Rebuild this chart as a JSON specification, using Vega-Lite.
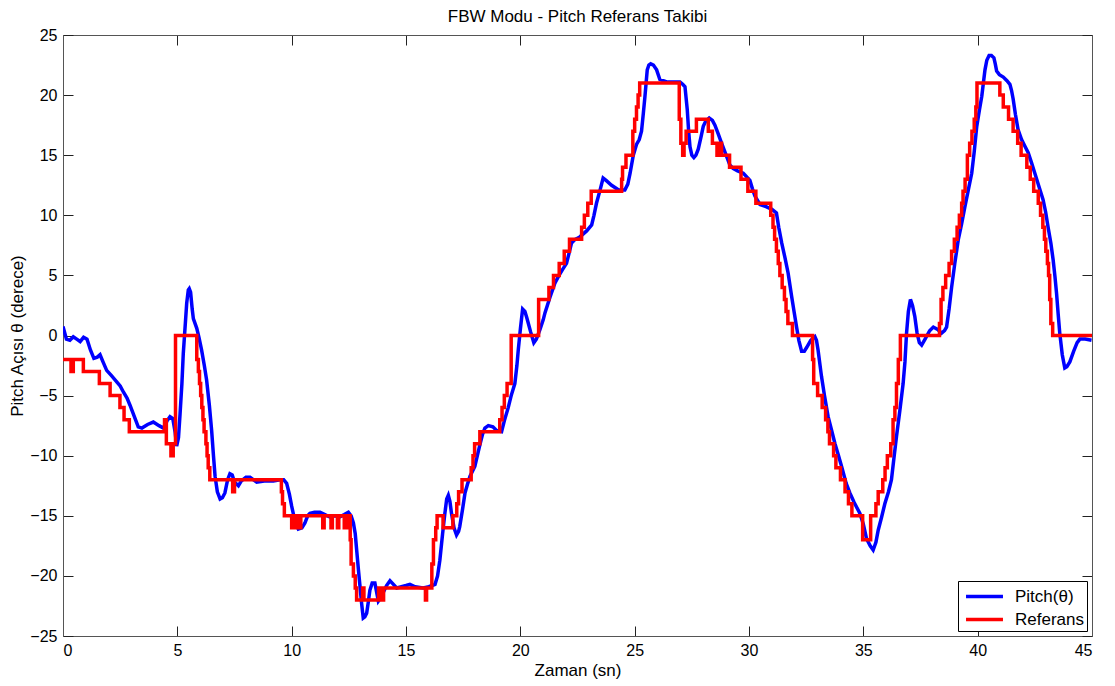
{
  "$schema": "https://vega.github.io/schema/vega-lite/v6.json",
  "width": 1029,
  "height": 601,
  "autosize": {"type": "none"},
  "padding": {"left": 63, "top": 35, "right": 23, "bottom": 50},
  "background": "white",
  "title": {"text": "FBW Modu - Pitch Referans Takibi", "font": "Liberation Sans", "fontSize": 17, "fontWeight": "normal", "color": "black", "offset": 1},
  "config": {
    "view": {"stroke": null},
    "axis": {"grid": false, "labelFont": "Liberation Sans", "labelFontSize": 16, "labelColor": "black", "titleFont": "Liberation Sans", "titleFontSize": 17, "titleFontWeight": "normal", "titleColor": "black", "domainColor": "#555", "tickColor": "#222", "tickSize": -10, "labelPadding": 16},
    "legend": {"orient": "bottom-right", "offset": 5, "padding": 3, "strokeColor": "black", "fillColor": "white", "labelFont": "Liberation Sans", "labelFontSize": 17, "labelColor": "black", "labelAlign": "left", "symbolType": "M-1.76,0H1.76", "symbolSize": 441, "symbolStrokeWidth": 3.5, "symbolOffset": 11, "labelOffset": 18, "rowPadding": 2, "cornerRadius": 0}
  },
  "datasets": {
    "pitch": [
      {"t":0,"v":0.75},{"t":0.15,"v":-0.3},{"t":0.3,"v":-0.4},{"t":0.45,"v":-0.1},{"t":0.6,"v":-0.3},{"t":0.75,"v":-0.5},{"t":0.9,"v":-0.15},{"t":1.05,"v":-0.3},{"t":1.2,"v":-1.2},{"t":1.35,"v":-1.9},{"t":1.5,"v":-1.8},{"t":1.62,"v":-1.6},{"t":1.75,"v":-2.2},{"t":1.91,"v":-2.9},{"t":2.1,"v":-3.3},{"t":2.35,"v":-3.85},{"t":2.5,"v":-4.2},{"t":2.64,"v":-4.7},{"t":2.8,"v":-5.2},{"t":2.93,"v":-5.8},{"t":3.05,"v":-6.4},{"t":3.15,"v":-6.9},{"t":3.29,"v":-7.6},{"t":3.45,"v":-7.7},{"t":3.7,"v":-7.4},{"t":3.95,"v":-7.2},{"t":4.2,"v":-7.5},{"t":4.39,"v":-7.7},{"t":4.55,"v":-7.1},{"t":4.68,"v":-6.75},{"t":4.8,"v":-6.9},{"t":4.9,"v":-8.0},{"t":4.97,"v":-9.2},{"t":5.05,"v":-8.5},{"t":5.12,"v":-6.5},{"t":5.2,"v":-4.0},{"t":5.26,"v":-1.5},{"t":5.35,"v":1.0},{"t":5.41,"v":2.7},{"t":5.48,"v":3.8},{"t":5.52,"v":3.9},{"t":5.58,"v":3.6},{"t":5.65,"v":2.2},{"t":5.7,"v":1.4},{"t":5.85,"v":0.6},{"t":5.95,"v":-0.2},{"t":6.06,"v":-1.2},{"t":6.18,"v":-2.5},{"t":6.28,"v":-3.7},{"t":6.4,"v":-5.8},{"t":6.5,"v":-7.9},{"t":6.58,"v":-10.0},{"t":6.65,"v":-11.7},{"t":6.75,"v":-13.0},{"t":6.87,"v":-13.6},{"t":6.97,"v":-13.5},{"t":7.08,"v":-13.1},{"t":7.2,"v":-12.0},{"t":7.3,"v":-11.5},{"t":7.4,"v":-11.6},{"t":7.5,"v":-12.2},{"t":7.67,"v":-12.5},{"t":7.8,"v":-12.1},{"t":8.0,"v":-11.8},{"t":8.18,"v":-11.8},{"t":8.47,"v":-12.2},{"t":8.8,"v":-12.1},{"t":9.2,"v":-12.1},{"t":9.49,"v":-12.0},{"t":9.65,"v":-12.0},{"t":9.78,"v":-12.3},{"t":9.9,"v":-13.2},{"t":10.0,"v":-14.2},{"t":10.15,"v":-15.5},{"t":10.29,"v":-16.1},{"t":10.45,"v":-16.0},{"t":10.58,"v":-15.6},{"t":10.7,"v":-15.0},{"t":10.8,"v":-14.8},{"t":11.0,"v":-14.7},{"t":11.24,"v":-14.7},{"t":11.45,"v":-14.9},{"t":11.67,"v":-15.1},{"t":11.9,"v":-15.0},{"t":12.1,"v":-15.1},{"t":12.3,"v":-14.9},{"t":12.48,"v":-14.7},{"t":12.6,"v":-15.0},{"t":12.7,"v":-15.6},{"t":12.78,"v":-16.5},{"t":12.84,"v":-17.8},{"t":12.92,"v":-19.5},{"t":12.99,"v":-20.9},{"t":13.06,"v":-22.3},{"t":13.13,"v":-23.5},{"t":13.2,"v":-23.4},{"t":13.28,"v":-23.1},{"t":13.35,"v":-22.2},{"t":13.42,"v":-21.2},{"t":13.52,"v":-20.6},{"t":13.64,"v":-20.6},{"t":13.72,"v":-21.4},{"t":13.79,"v":-22.1},{"t":13.9,"v":-21.8},{"t":14.0,"v":-21.4},{"t":14.15,"v":-20.8},{"t":14.3,"v":-20.4},{"t":14.45,"v":-20.7},{"t":14.59,"v":-21.0},{"t":14.8,"v":-20.9},{"t":15.0,"v":-20.8},{"t":15.17,"v":-20.7},{"t":15.4,"v":-20.9},{"t":15.75,"v":-21.0},{"t":16.0,"v":-20.9},{"t":16.27,"v":-20.7},{"t":16.38,"v":-20.0},{"t":16.48,"v":-18.7},{"t":16.6,"v":-16.5},{"t":16.7,"v":-14.8},{"t":16.78,"v":-13.6},{"t":16.85,"v":-13.3},{"t":16.92,"v":-13.8},{"t":16.99,"v":-14.8},{"t":17.1,"v":-16.0},{"t":17.21,"v":-16.6},{"t":17.3,"v":-16.3},{"t":17.35,"v":-15.9},{"t":17.47,"v":-14.5},{"t":17.58,"v":-13.1},{"t":17.7,"v":-12.3},{"t":17.8,"v":-11.7},{"t":18.01,"v":-10.9},{"t":18.12,"v":-10.0},{"t":18.23,"v":-9.1},{"t":18.35,"v":-8.2},{"t":18.45,"v":-7.7},{"t":18.6,"v":-7.5},{"t":18.8,"v":-7.6},{"t":18.96,"v":-7.9},{"t":19.18,"v":-8.0},{"t":19.3,"v":-7.1},{"t":19.47,"v":-6.0},{"t":19.6,"v":-5.0},{"t":19.76,"v":-4.0},{"t":19.85,"v":-2.5},{"t":19.91,"v":-1.2},{"t":20.0,"v":0.5},{"t":20.1,"v":2.2},{"t":20.2,"v":2.0},{"t":20.28,"v":1.5},{"t":20.45,"v":0.3},{"t":20.59,"v":-0.6},{"t":20.7,"v":-0.3},{"t":20.86,"v":0.5},{"t":21.0,"v":1.3},{"t":21.08,"v":1.9},{"t":21.3,"v":3.2},{"t":21.5,"v":4.3},{"t":21.66,"v":4.9},{"t":21.85,"v":5.5},{"t":22.02,"v":6.0},{"t":22.15,"v":7.0},{"t":22.24,"v":7.7},{"t":22.4,"v":8.0},{"t":22.6,"v":8.2},{"t":22.9,"v":8.7},{"t":23.12,"v":9.2},{"t":23.22,"v":10.0},{"t":23.33,"v":11.0},{"t":23.5,"v":12.2},{"t":23.62,"v":13.1},{"t":23.75,"v":12.9},{"t":23.99,"v":12.5},{"t":24.3,"v":12.1},{"t":24.57,"v":12.1},{"t":24.7,"v":12.6},{"t":24.8,"v":13.5},{"t":24.94,"v":15.0},{"t":25.08,"v":15.9},{"t":25.2,"v":16.3},{"t":25.3,"v":17.0},{"t":25.38,"v":18.5},{"t":25.45,"v":19.9},{"t":25.5,"v":21.0},{"t":25.55,"v":22.1},{"t":25.62,"v":22.5},{"t":25.7,"v":22.6},{"t":25.82,"v":22.5},{"t":25.96,"v":22.1},{"t":26.1,"v":21.3},{"t":26.4,"v":21.1},{"t":26.7,"v":21.1},{"t":26.98,"v":21.1},{"t":27.1,"v":20.9},{"t":27.2,"v":20.7},{"t":27.3,"v":18.8},{"t":27.36,"v":17.0},{"t":27.42,"v":15.7},{"t":27.5,"v":15.0},{"t":27.59,"v":14.8},{"t":27.68,"v":15.0},{"t":27.78,"v":15.5},{"t":27.9,"v":16.5},{"t":28.0,"v":17.4},{"t":28.1,"v":17.8},{"t":28.26,"v":18.1},{"t":28.4,"v":17.9},{"t":28.51,"v":17.5},{"t":28.65,"v":16.8},{"t":28.8,"v":16.0},{"t":29.0,"v":15.0},{"t":29.16,"v":14.2},{"t":29.3,"v":13.9},{"t":29.5,"v":13.7},{"t":29.75,"v":13.5},{"t":29.9,"v":13.2},{"t":30.04,"v":12.9},{"t":30.15,"v":12.2},{"t":30.26,"v":11.6},{"t":30.48,"v":10.9},{"t":30.77,"v":10.7},{"t":31.0,"v":10.5},{"t":31.2,"v":10.2},{"t":31.3,"v":9.0},{"t":31.43,"v":7.7},{"t":31.57,"v":6.5},{"t":31.71,"v":5.2},{"t":31.86,"v":3.3},{"t":31.97,"v":2.0},{"t":32.08,"v":0.7},{"t":32.18,"v":-0.4},{"t":32.3,"v":-1.3},{"t":32.42,"v":-1.3},{"t":32.52,"v":-1.0},{"t":32.7,"v":-0.4},{"t":32.88,"v":-0.1},{"t":32.95,"v":-0.4},{"t":33.02,"v":-1.2},{"t":33.17,"v":-3.4},{"t":33.3,"v":-5.0},{"t":33.46,"v":-6.75},{"t":33.6,"v":-7.8},{"t":33.76,"v":-9.0},{"t":33.9,"v":-9.9},{"t":34.05,"v":-10.9},{"t":34.25,"v":-12.3},{"t":34.41,"v":-13.1},{"t":34.6,"v":-13.9},{"t":34.85,"v":-14.8},{"t":35.0,"v":-15.7},{"t":35.14,"v":-16.9},{"t":35.3,"v":-17.5},{"t":35.43,"v":-17.85},{"t":35.55,"v":-17.2},{"t":35.65,"v":-16.2},{"t":35.8,"v":-15.1},{"t":35.94,"v":-14.0},{"t":36.1,"v":-13.0},{"t":36.23,"v":-12.0},{"t":36.35,"v":-10.0},{"t":36.45,"v":-8.4},{"t":36.6,"v":-6.2},{"t":36.74,"v":-4.0},{"t":36.82,"v":-2.2},{"t":36.89,"v":0.2},{"t":36.97,"v":2.0},{"t":37.06,"v":3.0},{"t":37.15,"v":2.5},{"t":37.25,"v":1.6},{"t":37.35,"v":0.2},{"t":37.45,"v":-0.6},{"t":37.55,"v":-0.8},{"t":37.7,"v":-0.3},{"t":37.9,"v":0.4},{"t":38.06,"v":0.7},{"t":38.25,"v":0.5},{"t":38.42,"v":0.2},{"t":38.55,"v":0.4},{"t":38.64,"v":0.7},{"t":38.75,"v":2.2},{"t":38.86,"v":4.0},{"t":39.0,"v":6.0},{"t":39.15,"v":7.95},{"t":39.3,"v":9.3},{"t":39.44,"v":10.7},{"t":39.6,"v":12.2},{"t":39.74,"v":13.5},{"t":39.85,"v":15.3},{"t":39.96,"v":17.4},{"t":40.08,"v":18.8},{"t":40.18,"v":19.9},{"t":40.25,"v":21.0},{"t":40.32,"v":22.1},{"t":40.4,"v":22.9},{"t":40.5,"v":23.3},{"t":40.6,"v":23.3},{"t":40.71,"v":23.1},{"t":40.77,"v":22.6},{"t":40.83,"v":22.0},{"t":40.95,"v":21.7},{"t":41.12,"v":21.5},{"t":41.28,"v":21.2},{"t":41.41,"v":20.9},{"t":41.48,"v":20.4},{"t":41.55,"v":19.7},{"t":41.65,"v":18.4},{"t":41.77,"v":17.1},{"t":41.92,"v":16.3},{"t":42.05,"v":15.8},{"t":42.21,"v":15.2},{"t":42.35,"v":14.4},{"t":42.5,"v":13.5},{"t":42.68,"v":12.4},{"t":42.86,"v":11.3},{"t":42.97,"v":10.3},{"t":43.08,"v":9.0},{"t":43.2,"v":7.7},{"t":43.3,"v":6.3},{"t":43.38,"v":4.9},{"t":43.45,"v":3.5},{"t":43.52,"v":1.8},{"t":43.59,"v":0.2},{"t":43.7,"v":-1.6},{"t":43.81,"v":-2.7},{"t":43.9,"v":-2.6},{"t":44.03,"v":-2.2},{"t":44.2,"v":-1.3},{"t":44.35,"v":-0.6},{"t":44.47,"v":-0.3},{"t":44.7,"v":-0.3},{"t":44.98,"v":-0.4}
    ],
    "ref": [
      {"t":0,"v":-2},{"t":0.35,"v":-3},{"t":0.45,"v":-2},{"t":0.89,"v":-3},{"t":1.59,"v":-4},{"t":2.06,"v":-5},{"t":2.49,"v":-6},{"t":2.67,"v":-7},{"t":2.9,"v":-8},{"t":4.44,"v":-7},{"t":4.52,"v":-9},{"t":4.72,"v":-10},{"t":4.82,"v":-9},{"t":4.92,"v":0},{"t":5.85,"v":-2},{"t":5.92,"v":-3},{"t":5.97,"v":-4},{"t":6.02,"v":-5},{"t":6.07,"v":-6},{"t":6.12,"v":-7},{"t":6.17,"v":-8},{"t":6.25,"v":-9},{"t":6.3,"v":-10},{"t":6.35,"v":-11},{"t":6.42,"v":-12},{"t":7.42,"v":-13},{"t":7.5,"v":-12},{"t":9.55,"v":-13},{"t":9.6,"v":-14},{"t":9.68,"v":-15},{"t":10.0,"v":-16},{"t":10.05,"v":-15},{"t":10.1,"v":-16},{"t":10.15,"v":-15},{"t":10.2,"v":-16},{"t":10.28,"v":-15},{"t":10.35,"v":-16},{"t":10.4,"v":-15},{"t":11.36,"v":-16},{"t":11.42,"v":-15},{"t":11.72,"v":-16},{"t":11.78,"v":-15},{"t":12.0,"v":-16},{"t":12.06,"v":-15},{"t":12.3,"v":-16},{"t":12.36,"v":-15},{"t":12.42,"v":-16},{"t":12.48,"v":-15},{"t":12.56,"v":-17},{"t":12.6,"v":-19},{"t":12.7,"v":-20},{"t":12.78,"v":-21},{"t":12.84,"v":-22},{"t":13.1,"v":-21},{"t":13.16,"v":-22},{"t":13.8,"v":-21},{"t":13.86,"v":-22},{"t":13.92,"v":-21},{"t":13.97,"v":-22},{"t":14.02,"v":-21},{"t":15.85,"v":-22},{"t":15.9,"v":-21},{"t":16.13,"v":-19},{"t":16.2,"v":-17},{"t":16.3,"v":-16},{"t":16.36,"v":-15},{"t":16.62,"v":-16},{"t":17.05,"v":-15},{"t":17.22,"v":-14},{"t":17.3,"v":-13},{"t":17.45,"v":-12},{"t":17.85,"v":-11},{"t":17.93,"v":-10},{"t":18.0,"v":-9},{"t":18.23,"v":-8},{"t":19.1,"v":-7},{"t":19.2,"v":-6},{"t":19.3,"v":-5},{"t":19.42,"v":-4},{"t":19.6,"v":0},{"t":20.8,"v":3},{"t":21.25,"v":4},{"t":21.45,"v":5},{"t":21.7,"v":6},{"t":21.92,"v":7},{"t":22.15,"v":8},{"t":22.68,"v":9},{"t":22.8,"v":10},{"t":22.95,"v":11},{"t":23.1,"v":12},{"t":24.43,"v":13},{"t":24.47,"v":14},{"t":24.62,"v":15},{"t":24.92,"v":17},{"t":25.0,"v":18},{"t":25.08,"v":19},{"t":25.15,"v":20},{"t":25.22,"v":21},{"t":26.95,"v":18},{"t":27.02,"v":16},{"t":27.1,"v":15},{"t":27.16,"v":16},{"t":27.25,"v":17},{"t":27.7,"v":18},{"t":28.22,"v":17},{"t":28.4,"v":16},{"t":28.6,"v":15},{"t":28.65,"v":16},{"t":28.7,"v":15},{"t":28.75,"v":16},{"t":28.8,"v":15},{"t":29.15,"v":14},{"t":29.65,"v":13},{"t":29.95,"v":12},{"t":30.3,"v":11},{"t":30.95,"v":10},{"t":31.05,"v":9},{"t":31.12,"v":8},{"t":31.2,"v":7},{"t":31.28,"v":6},{"t":31.35,"v":5},{"t":31.45,"v":4},{"t":31.55,"v":3},{"t":31.62,"v":2},{"t":31.7,"v":1},{"t":31.9,"v":0},{"t":32.78,"v":-2},{"t":32.83,"v":-4},{"t":33.0,"v":-5},{"t":33.2,"v":-6},{"t":33.35,"v":-7},{"t":33.45,"v":-8},{"t":33.52,"v":-9},{"t":33.7,"v":-10},{"t":33.8,"v":-11},{"t":34.0,"v":-12},{"t":34.2,"v":-13},{"t":34.35,"v":-14},{"t":34.5,"v":-15},{"t":34.97,"v":-17},{"t":35.32,"v":-15},{"t":35.55,"v":-14},{"t":35.65,"v":-13},{"t":35.85,"v":-12},{"t":35.95,"v":-11},{"t":36.05,"v":-10},{"t":36.2,"v":-9},{"t":36.3,"v":-7},{"t":36.38,"v":-6},{"t":36.45,"v":-4},{"t":36.53,"v":-2},{"t":36.62,"v":0},{"t":38.33,"v":1},{"t":38.4,"v":3},{"t":38.48,"v":4},{"t":38.6,"v":5},{"t":38.75,"v":6},{"t":38.86,"v":7},{"t":38.98,"v":8},{"t":39.1,"v":9},{"t":39.2,"v":10},{"t":39.3,"v":11},{"t":39.36,"v":12},{"t":39.45,"v":13},{"t":39.55,"v":15},{"t":39.65,"v":16},{"t":39.75,"v":17},{"t":39.85,"v":18},{"t":39.92,"v":19},{"t":39.97,"v":21},{"t":40.97,"v":20},{"t":41.12,"v":19},{"t":41.35,"v":18},{"t":41.55,"v":17},{"t":41.75,"v":16},{"t":41.9,"v":15},{"t":42.15,"v":14},{"t":42.3,"v":13},{"t":42.45,"v":12},{"t":42.65,"v":11},{"t":42.75,"v":10},{"t":42.85,"v":9},{"t":42.92,"v":8},{"t":42.98,"v":7},{"t":43.05,"v":6},{"t":43.1,"v":5},{"t":43.15,"v":3},{"t":43.2,"v":1},{"t":43.28,"v":0},{"t":45,"v":0}
    ]
  },
  "layer": [
    {
      "data": {"name": "pitch"},
      "transform": [{"calculate": "'Pitch(θ)'", "as": "seri"}],
      "mark": {"type": "line", "strokeWidth": 3.5, "clip": true},
      "encoding": {
        "x": {"field": "t", "type": "quantitative", "scale": {"domain": [0, 45], "nice": false}, "axis": {"orient": "bottom", "title": "Zaman (sn)", "values": [0,5,10,15,20,25,30,35,40,45], "titlePadding": 4}},
        "y": {"field": "v", "type": "quantitative", "scale": {"domain": [-25, 25], "nice": false}, "axis": {"orient": "left", "title": "Pitch Açısı θ (derece)", "values": [-25,-20,-15,-10,-5,0,5,10,15,20,25], "titlePadding": 3}},
        "color": {"field": "seri", "type": "nominal", "scale": {"domain": ["Pitch(θ)", "Referans"], "range": ["#0000FF", "#FF0000"]}, "legend": {"title": null}}
      }
    },
    {
      "data": {"name": "ref"},
      "transform": [{"calculate": "'Referans'", "as": "seri"}],
      "mark": {"type": "line", "strokeWidth": 3.5, "interpolate": "step-after", "clip": true},
      "encoding": {
        "x": {"field": "t", "type": "quantitative", "axis": null},
        "y": {"field": "v", "type": "quantitative", "axis": null},
        "color": {"field": "seri", "type": "nominal", "legend": {"title": null}}
      }
    },
    {
      "data": {"name": "ref"},
      "mark": {"type": "point", "opacity": 0},
      "encoding": {
        "x": {"field": "t", "type": "quantitative", "axis": {"orient": "top", "title": null, "labels": false, "values": [0,5,10,15,20,25,30,35,40,45]}},
        "y": {"field": "v", "type": "quantitative", "axis": {"orient": "right", "title": null, "labels": false, "values": [-25,-20,-15,-10,-5,0,5,10,15,20,25]}}
      }
    }
  ],
  "resolve": {"axis": {"x": "independent", "y": "independent"}}
}
